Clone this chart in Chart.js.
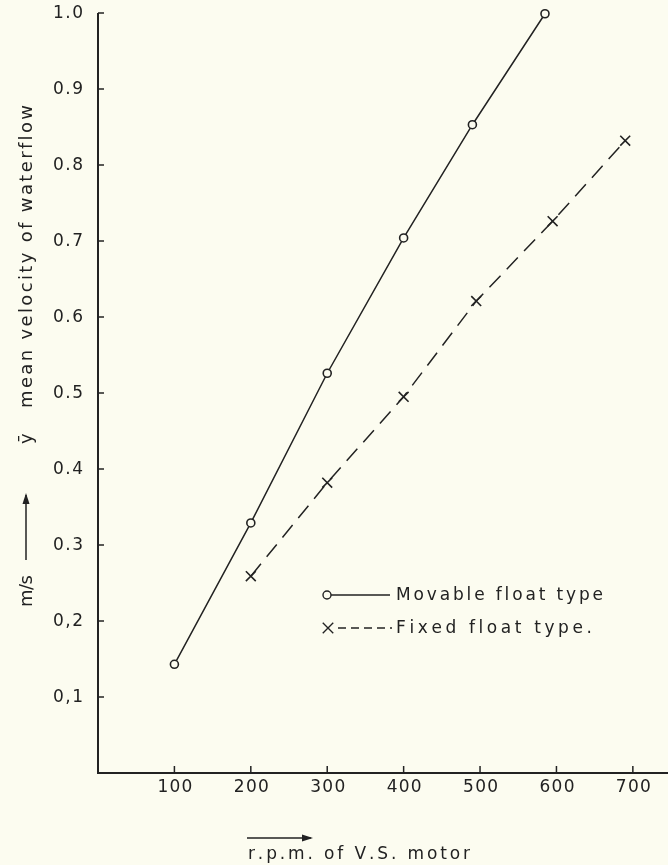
<!DOCTYPE html>
<html>
<head>
<meta charset="utf-8">
<script src="https://cdn.jsdelivr.net/npm/chart.js@4/dist/chart.umd.min.js"></script>
<style>
  html, body { margin: 0; padding: 0; background: #fcfcf0; overflow: hidden; }
  #wrap { width: 668px; height: 865px; }
  canvas { display: block; }
</style>
</head>
<body>
<div id="wrap"><canvas id="chart" width="668" height="865"></canvas></div>
<script>
const movableRpm = [100, 200, 300, 400, 490, 585];
const movableVel = [0.143, 0.329, 0.526, 0.704, 0.853, 0.999];
const fixedRpm = [200, 300, 400, 495, 595, 690];
const fixedVel = [0.259, 0.382, 0.495, 0.621, 0.726, 0.832];

const xTicks = [100, 200, 300, 400, 500, 600, 700];
const xTickLabels = ["100", "200", "300", "400", "500", "600", "700"];
const yTicks = [0.1, 0.2, 0.3, 0.4, 0.5, 0.6, 0.7, 0.8, 0.9, 1.0];
const yTickLabels = ["0,1", "0,2", "0.3", "0.4", "0.5", "0.6", "0.7", "0.8", "0.9", "1.0"];

const seriesNames = ["Movable float type", "Fixed float type."];
const xTitle = "r.p.m. of V.S. motor";
const yUnit = "m/s";
const ySymbol = "ȳ";
const yTitle = "mean velocity of waterflow";

const ink = "#222222";
const paper = "#fcfcf0";
const fam = '"DejaVu Sans", sans-serif';

// draw text char by char, stretched to a given width (hand lettering is wide)
function fitText(ctx, text, x, y, width) {
  const chars = [...text];
  const natural = chars.reduce((s, c) => s + ctx.measureText(c).width, 0);
  const gap = chars.length > 1 ? (width - natural) / (chars.length - 1) : 0;
  let cx = x;
  for (const c of chars) {
    ctx.fillText(c, cx, y);
    cx += ctx.measureText(c).width + gap;
  }
}

function arrow(ctx, x1, y1, x2, y2) {
  const a = Math.atan2(y2 - y1, x2 - x1);
  ctx.beginPath();
  ctx.moveTo(x1, y1);
  ctx.lineTo(x2, y2);
  ctx.stroke();
  ctx.beginPath();
  ctx.moveTo(x2 + 2 * Math.cos(a), y2 + 2 * Math.sin(a));
  ctx.lineTo(x2 - 9 * Math.cos(a) + 3.5 * Math.sin(a), y2 - 9 * Math.sin(a) - 3.5 * Math.cos(a));
  ctx.lineTo(x2 - 9 * Math.cos(a) - 3.5 * Math.sin(a), y2 - 9 * Math.sin(a) + 3.5 * Math.cos(a));
  ctx.closePath();
  ctx.fill();
}

const framePlugin = {
  id: "frame",
  beforeDatasetsDraw(chart) {
    const { ctx, chartArea: a, scales: { x, y } } = chart;
    ctx.save();
    ctx.strokeStyle = ink;
    ctx.fillStyle = ink;
    ctx.lineWidth = 2;
    const x0 = x.getPixelForValue(0);
    const y0 = y.getPixelForValue(0);
    const yTop = y.getPixelForValue(1.0);

    // axes
    ctx.beginPath();
    ctx.moveTo(x0, yTop);
    ctx.lineTo(x0, y0);
    ctx.lineTo(a.right, y0);
    ctx.stroke();

    // y ticks (inside) and labels
    ctx.lineWidth = 1.5;
    ctx.font = "17px " + fam;
    ctx.textBaseline = "middle";
    yTicks.forEach((v, i) => {
      const py = y.getPixelForValue(v);
      ctx.beginPath();
      ctx.moveTo(x0, py);
      ctx.lineTo(x0 + 6, py);
      ctx.stroke();
      fitText(ctx, yTickLabels[i], x0 - 45, py + 1, 30);
    });

    // x ticks (inside) and labels
    xTicks.forEach((v, i) => {
      const px = x.getPixelForValue(v);
      ctx.beginPath();
      ctx.moveTo(px, y0);
      ctx.lineTo(px, y0 - 7);
      ctx.stroke();
      fitText(ctx, xTickLabels[i], px - 17, y0 + 15, 35);
    });
    ctx.restore();
  },
  afterDraw(chart) {
    const { ctx } = chart;
    ctx.save();
    ctx.strokeStyle = ink;
    ctx.fillStyle = ink;
    ctx.textBaseline = "alphabetic";

    // x title
    ctx.lineWidth = 1.5;
    arrow(ctx, 247, 838, 311, 838);
    ctx.font = "17px " + fam;
    fitText(ctx, xTitle, 248, 859, 222);

    // y title, rotated
    ctx.translate(32, 607);
    ctx.rotate(-Math.PI / 2);
    ctx.font = "18px " + fam;
    fitText(ctx, yUnit, 0, 0, 32);
    arrow(ctx, 47, -6, 112, -6);
    ctx.fillText(ySymbol, 163, 0);
    fitText(ctx, yTitle, 199, 0, 303);
    ctx.restore();

    // legend
    const ds = chart.data.datasets;
    ctx.save();
    ctx.strokeStyle = ink;
    ctx.fillStyle = ink;
    ctx.font = "17px " + fam;
    ctx.textBaseline = "middle";
    ctx.lineWidth = 1.4;

    ctx.beginPath();
    ctx.moveTo(331, 595);
    ctx.lineTo(390, 595);
    ctx.stroke();
    ctx.fillStyle = paper;
    ctx.beginPath();
    ctx.arc(327, 595, ds[0].pointRadius, 0, Math.PI * 2);
    ctx.fill();
    ctx.stroke();
    ctx.fillStyle = ink;
    fitText(ctx, ds[0].label, 396, 596, 207);

    ctx.setLineDash([8, 5]);
    ctx.beginPath();
    ctx.moveTo(338, 628);
    ctx.lineTo(392, 628);
    ctx.stroke();
    ctx.setLineDash([]);
    const r = ds[1].pointRadius * 0.75;
    ctx.beginPath();
    ctx.moveTo(328 - r, 628 - r);
    ctx.lineTo(328 + r, 628 + r);
    ctx.moveTo(328 - r, 628 + r);
    ctx.lineTo(328 + r, 628 - r);
    ctx.stroke();
    fitText(ctx, ds[1].label, 396, 629, 196);
    ctx.restore();
  },
};

new Chart(document.getElementById("chart"), {
  type: "scatter",
  data: {
    datasets: [
      {
        label: seriesNames[0],
        data: movableRpm.map((v, i) => ({ x: v, y: movableVel[i] })),
        showLine: true,
        borderColor: ink,
        borderWidth: 1.5,
        pointStyle: "circle",
        pointRadius: 4,
        pointBorderWidth: 1.6,
        pointBackgroundColor: paper,
        pointBorderColor: ink,
        clip: false,
      },
      {
        label: seriesNames[1],
        data: fixedRpm.map((v, i) => ({ x: v, y: fixedVel[i] })),
        showLine: true,
        borderColor: ink,
        borderWidth: 1.5,
        borderDash: [16, 9],
        pointStyle: "crossRot",
        pointRadius: 7,
        pointBorderWidth: 1.6,
        pointBorderColor: ink,
        clip: false,
      },
    ],
  },
  options: {
    responsive: false,
    animation: false,
    layout: { autoPadding: false, padding: { left: 98, right: 0, top: 13, bottom: 92 } },
    scales: {
      x: { type: "linear", min: 0, max: 746, display: false },
      y: { type: "linear", min: 0, max: 1.0, display: false },
    },
    plugins: {
      legend: { display: false },
      tooltip: { enabled: false },
    },
  },
  plugins: [framePlugin],
});
</script>
</body>
</html>
